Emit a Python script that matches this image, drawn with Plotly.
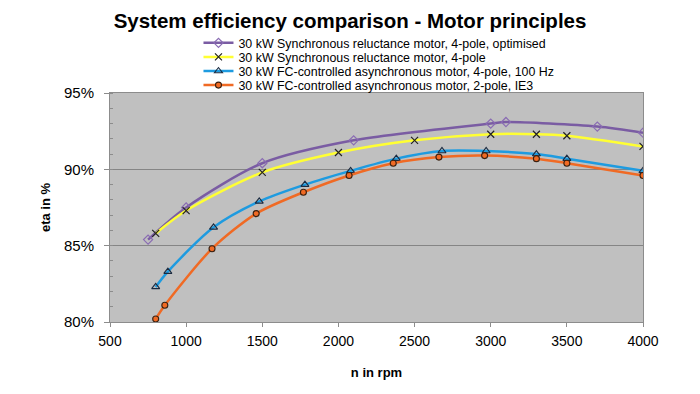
import plotly.graph_objects as go

names = [
    "30 kW Synchronous reluctance motor, 4-pole, optimised",
    "30 kW Synchronous reluctance motor, 4-pole",
    "30 kW FC-controlled asynchronous motor, 4-pole, 100 Hz",
    "30 kW FC-controlled asynchronous motor, 2-pole, IE3",
]

rpm_opt = [750, 1000, 1500, 2100, 3000, 3100, 3700, 4000]
eta_opt = [85.4, 87.5, 90.4, 91.9, 93.0, 93.1, 92.8, 92.4]

rpm_syn = [800, 1000, 1500, 2000, 2500, 3000, 3300, 3500, 4000]
eta_syn = [85.8, 87.3, 89.8, 91.1, 91.9, 92.3, 92.3, 92.2, 91.5]

rpm_fc4 = [800, 880, 1180, 1480, 1780, 2080, 2380, 2680, 2970, 3300, 3500, 4000]
eta_fc4 = [82.3, 83.3, 86.2, 87.9, 89.0, 89.9, 90.7, 91.2, 91.2, 91.0, 90.7, 89.9]

rpm_fc2 = [800, 860, 1170, 1460, 1770, 2070, 2360, 2660, 2960, 3300, 3500, 4000]
eta_fc2 = [80.2, 81.1, 84.8, 87.1, 88.5, 89.6, 90.4, 90.8, 90.9, 90.7, 90.4, 89.6]

x_ticks = [500, 1000, 1500, 2000, 2500, 3000, 3500, 4000]

fig = go.Figure()

fig.add_trace(go.Scatter(
    x=rpm_opt, y=eta_opt, name=names[0], mode="lines+markers", legend="legend",
    line=dict(color="#7A5CA3", width=2.5, shape="spline", smoothing=0.8),
    marker=dict(symbol="diamond-open", size=7, color="#8A6CB3", line=dict(width=1.2)),
))
fig.add_trace(go.Scatter(
    x=rpm_syn, y=eta_syn, name=names[1], mode="lines+markers", legend="legend2",
    line=dict(color="#FFFF33", width=2.5, shape="spline", smoothing=0.8),
    marker=dict(symbol="x-thin-open", size=7, color="#222222", line=dict(width=1.2, color="#222222")),
))
fig.add_trace(go.Scatter(
    x=rpm_fc4, y=eta_fc4, name=names[2], mode="lines+markers", legend="legend3",
    line=dict(color="#1E9BE0", width=2.5, shape="spline", smoothing=0.8),
    marker=dict(symbol="triangle-up-open", size=7, color="#1a2a40", line=dict(width=1.1)),
))
fig.add_trace(go.Scatter(
    x=rpm_fc2, y=eta_fc2, name=names[3], mode="lines+markers", legend="legend4",
    line=dict(color="#F06A24", width=2.5, shape="spline", smoothing=0.8),
    marker=dict(symbol="circle", size=6, color="#F06A24", line=dict(width=1.1, color="#3a2010")),
))

leg_common = dict(x=0.166, xanchor="left", yanchor="middle",
                  bgcolor="rgba(0,0,0,0)", font=dict(size=12.4),
                  tracegroupgap=0, itemwidth=30)

fig.update_layout(
    width=700, height=394,
    margin=dict(l=102, r=65, t=85, b=80),
    paper_bgcolor="white",
    plot_bgcolor="#C0C0C0",
    font=dict(family="Liberation Sans, Arial, sans-serif", color="black"),
    title=dict(text="<b>System efficiency comparison - Motor principles</b>",
               x=0.4886, xanchor="center", y=0.968, yanchor="middle",
               font=dict(size=20.5, color="black")),
    showlegend=True,
    legend=dict(y=1.2170, **leg_common),
    legend2=dict(y=1.1555, **leg_common),
    legend3=dict(y=1.0940, **leg_common),
    legend4=dict(y=1.0325, **leg_common),
    xaxis=dict(range=[500, 4000], tickvals=x_ticks, showgrid=False,
               zeroline=False, showline=True, linecolor="#8c8c8c", linewidth=1,
               mirror=True, ticks="outside", ticklen=4, tickcolor="#8c8c8c",
               tickfont=dict(size=14), ticklabelstandoff=2,
               title=dict(text="<b>n in rpm</b>", font=dict(size=13), standoff=20)),
    yaxis=dict(range=[80, 95], dtick=5, ticksuffix="%", showgrid=True,
               gridcolor="#858585", gridwidth=1, zeroline=False,
               showline=True, linecolor="#8c8c8c", linewidth=1, mirror=True,
               ticks="outside", ticklen=5, tickcolor="#8c8c8c",
               tickfont=dict(size=15), ticklabelstandoff=7,
               minor=dict(dtick=1, ticks="inside", ticklen=3, tickcolor="#8c8c8c", showgrid=False),
               title=dict(text="<b>eta in %</b>", font=dict(size=13), standoff=10)),
)

fig.write_html("out.html")
